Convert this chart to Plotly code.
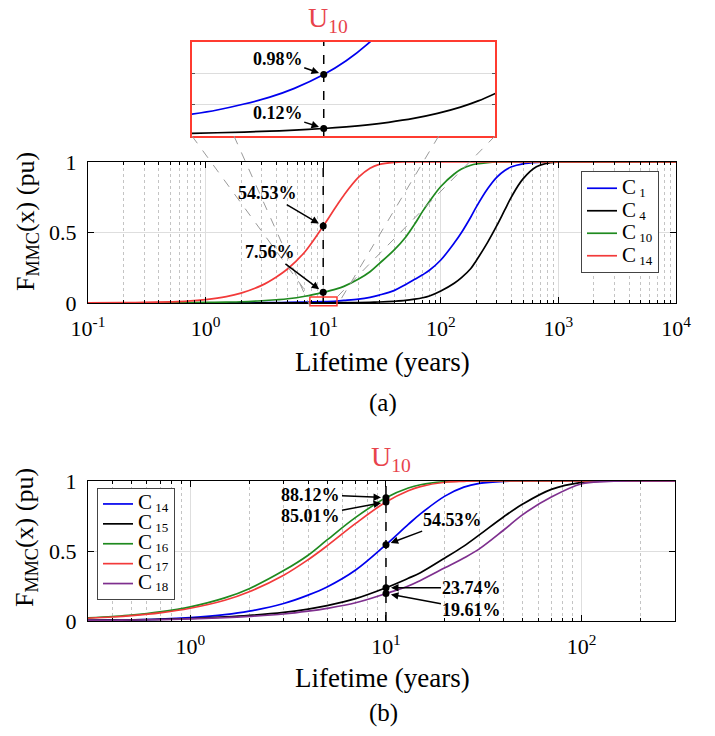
import math
import plotly.graph_objects as go

W, H = 715, 736
OFF = 8  # page body margin offset of the rendered figure
SERIF = "Liberation Serif"

# ---------------- data ----------------
x_top = [0.1, 0.2, 0.3, 0.5, 0.7, 1, 1.5, 2, 3, 4, 5, 7, 10, 13, 15, 20, 25, 30, 40, 50, 60, 70,
         80, 100, 130, 150, 180, 200, 250, 300, 350, 400, 500, 650, 850, 1000, 2000, 10000]
c1_top = [0, 0, 0.00002, 0.00005, 0.0001, 0.0003, 0.0006, 0.001, 0.002, 0.003, 0.004, 0.0065, 0.0098,
          0.014, 0.018, 0.027, 0.04, 0.056, 0.088, 0.13, 0.168, 0.2, 0.232, 0.305, 0.425, 0.5, 0.61,
          0.68, 0.81, 0.893, 0.94, 0.966, 0.987, 0.997, 1, 1, 1, 1]
c4_top = [0, 0, 0, 0.00001, 0.00002, 0.00003, 0.00006, 0.0001, 0.0002, 0.0003, 0.0004, 0.0007, 0.0012,
          0.002, 0.0025, 0.0035, 0.005, 0.007, 0.012, 0.018, 0.027, 0.037, 0.05, 0.085, 0.14, 0.18,
          0.245, 0.30, 0.43, 0.55, 0.66, 0.755, 0.88, 0.966, 0.995, 1, 1, 1]
c10_top = [0.0003, 0.0007, 0.0011, 0.002, 0.003, 0.004, 0.0065, 0.009, 0.016, 0.023, 0.03, 0.048, 0.0756,
           0.1, 0.118, 0.17, 0.222, 0.28, 0.375, 0.465, 0.56, 0.65, 0.72, 0.826, 0.915, 0.95, 0.977,
           0.986, 0.996, 1, 1, 1, 1, 1, 1, 1, 1, 1]
c14_top = [0.001, 0.002, 0.004, 0.008, 0.013, 0.024, 0.045, 0.07, 0.125, 0.185, 0.243, 0.364, 0.5453,
           0.69, 0.765, 0.892, 0.956, 0.983, 0.998, 1, 1, 1, 1, 1, 1, 1, 1, 1, 1, 1, 1, 1, 1, 1, 1, 1, 1, 1]

x_inset = [7.9, 8.3, 8.7, 9.1, 9.5, 10, 10.4, 10.8, 11.2, 11.7, 12.2, 12.7, 13.1, 13.5]
c1_inset = [0.0034, 0.00415, 0.0051, 0.0062, 0.0076, 0.0098, 0.012, 0.0147, 0.0179, 0.0231, 0.0297,
            0.038, 0.046, 0.056]
c4_inset = [0.00042, 0.00052, 0.00063, 0.00077, 0.00094, 0.0012, 0.00146, 0.00178, 0.00218, 0.0028,
            0.0036, 0.0046, 0.0056, 0.0068]

x_bot = [0.3, 0.4, 0.5, 0.7, 1, 1.5, 2, 3, 4, 5, 7, 10, 13, 15, 20, 25, 30, 40, 50, 70, 100, 130,
         150, 200, 300]
c14_bot = [0.004, 0.006, 0.008, 0.013, 0.024, 0.045, 0.07, 0.125, 0.185, 0.243, 0.364, 0.5453, 0.69,
           0.765, 0.892, 0.956, 0.983, 0.998, 1, 1, 1, 1, 1, 1, 1]
c15_bot = [0.005, 0.0065, 0.008, 0.012, 0.018, 0.029, 0.04, 0.062, 0.085, 0.11, 0.16, 0.2374, 0.305,
           0.345, 0.45, 0.535, 0.615, 0.745, 0.835, 0.94, 0.99, 0.999, 1, 1, 1]
c16_bot = [0.022, 0.032, 0.042, 0.065, 0.101, 0.165, 0.231, 0.36, 0.47, 0.579, 0.74, 0.8812, 0.95, 0.973,
           0.995, 0.999, 1, 1, 1, 1, 1, 1, 1, 1, 1]
c17_bot = [0.0197, 0.0285, 0.038, 0.058, 0.091, 0.148, 0.209, 0.327, 0.438, 0.537, 0.697, 0.8501, 0.93,
           0.96, 0.991, 0.998, 1, 1, 1, 1, 1, 1, 1, 1, 1]
c18_bot = [0.004, 0.0055, 0.007, 0.01, 0.015, 0.024, 0.033, 0.05, 0.07, 0.09, 0.13, 0.1961, 0.25, 0.29,
           0.38, 0.45, 0.515, 0.65, 0.76, 0.885, 0.98, 0.996, 0.999, 1, 1]

u_x = 10
marks_top = [0.5453, 0.0756]
marks_inset = [0.0098, 0.0012]
marks_bot = [0.8812, 0.8501, 0.5453, 0.2374, 0.1961]

top_subs = ["1", "4", "10", "14"]
bot_subs = ["14", "15", "16", "17", "18"]

BLUE, BLACK, GREEN, RED, PURPLE = "#0000ee", "#000000", "#1f8a1f", "#f23a3a", "#7e2f8e"
ULAB = "#e8434b"
ZRED = "#ff3b30"


# ---------------- geometry (reference-image pixels -> paper) ----------------
def PX(p):
    return (p - OFF) / W


def PY(p):
    return 1 - (p - OFF) / H


XA_DOM = [PX(88), PX(676)]
YA_DOM = [PY(303), PY(162)]
XA_RANGE = [-1, 4]
XB_DOM = [PX(88), PX(675)]
YB_DOM = [PY(621), PY(481)]
XB_RANGE = [math.log10(0.3), math.log10(300)]
XI_DOM = [PX(192), PX(495)]
YI_DOM = [PY(136), PY(42)]
XI_RANGE = [0.9, 1.13]
YI_RANGE = [0, 0.015]


def legname(sub):
    return ("<span style='font-size:21px'>C</span>"
            "<sub><span style='font-size:13px'> %s</span></sub>" % sub)


def a_to_paper(x, y):
    fx = (math.log10(x) - XA_RANGE[0]) / (XA_RANGE[1] - XA_RANGE[0])
    return XA_DOM[0] + fx * (XA_DOM[1] - XA_DOM[0]), YA_DOM[0] + y * (YA_DOM[1] - YA_DOM[0])


fig = go.Figure()
LINE = dict(width=1.7, shape="spline", smoothing=1.0)

# top curves
for ys, col, sb in zip([c1_top, c4_top, c10_top, c14_top], [BLUE, BLACK, GREEN, RED], top_subs):
    fig.add_trace(go.Scatter(x=x_top, y=ys, mode="lines", name=legname(sb), legend="legend",
                             line=dict(LINE, color=col), xaxis="x", yaxis="y"))
fig.add_trace(go.Scatter(x=[u_x, u_x], y=[0, 1], mode="lines", showlegend=False,
                         line=dict(color="black", width=1.5, dash="dash"), xaxis="x", yaxis="y"))
fig.add_trace(go.Scatter(x=[u_x] * len(marks_top), y=marks_top, mode="markers", showlegend=False,
                         marker=dict(color="black", size=7), xaxis="x", yaxis="y"))

# inset curves
for ys, col in zip([c1_inset, c4_inset], [BLUE, BLACK]):
    fig.add_trace(go.Scatter(x=x_inset, y=ys, mode="lines", showlegend=False,
                             line=dict(LINE, color=col), xaxis="x3", yaxis="y3"))
fig.add_trace(go.Scatter(x=[u_x, u_x], y=YI_RANGE, mode="lines", showlegend=False,
                         line=dict(color="black", width=1.5, dash="dash"), xaxis="x3", yaxis="y3"))
fig.add_trace(go.Scatter(x=[u_x] * len(marks_inset), y=marks_inset, mode="markers", showlegend=False,
                         marker=dict(color="black", size=7), xaxis="x3", yaxis="y3"))

# bottom curves
for ys, col, sb in zip([c14_bot, c15_bot, c16_bot, c17_bot, c18_bot],
                       [BLUE, BLACK, GREEN, RED, PURPLE], bot_subs):
    fig.add_trace(go.Scatter(x=x_bot, y=ys, mode="lines", name=legname(sb), legend="legend2",
                             line=dict(LINE, color=col), xaxis="x2", yaxis="y2"))
fig.add_trace(go.Scatter(x=[u_x, u_x], y=[0, 1], mode="lines", showlegend=False,
                         line=dict(color="black", width=1.5, dash="dash"), xaxis="x2", yaxis="y2"))
fig.add_trace(go.Scatter(x=[u_x] * len(marks_bot), y=marks_bot, mode="markers", showlegend=False,
                         marker=dict(color="black", size=7), xaxis="x2", yaxis="y2"))


def minor_vals(lo, hi):
    out = []
    e = lo
    while e < hi:
        for m in range(2, 10):
            out.append(m * 10 ** e)
        e += 1
    return out


common_x = dict(type="log", ticks="inside", ticklen=6, tickcolor="black", mirror="allticks",
                showline=True, linecolor="black", linewidth=1, showgrid=True, gridcolor="#dedede",
                gridwidth=1, zeroline=False, ticklabelstandoff=6, automargin=False,
                tickfont=dict(family=SERIF, size=22, color="black"))
common_y = dict(ticks="inside", ticklen=6, tickcolor="black", mirror="allticks", showline=True,
                linecolor="black", linewidth=1, showgrid=True, gridcolor="#dedede", zeroline=False,
                tickvals=[0, 0.5, 1], ticktext=["0", "0.5", "1"], ticklabelstandoff=6,
                automargin=False, tickfont=dict(family=SERIF, size=22, color="black"))
minor_common = dict(ticks="inside", ticklen=3, tickcolor="black", showgrid=True,
                    gridcolor="#c4c4c4", griddash="dot", gridwidth=1)

fig.update_layout(
    width=W, height=H, margin=dict(l=0, r=0, t=0, b=0, pad=0, autoexpand=False),
    paper_bgcolor="white", plot_bgcolor="white",
    xaxis=dict(common_x, domain=XA_DOM, range=XA_RANGE, anchor="y",
               tickvals=[0.1, 1, 10, 100, 1000, 10000],
               ticktext=["10<sup>-1</sup>", "10<sup>0</sup>", "10<sup>1</sup>", "10<sup>2</sup>",
                         "10<sup>3</sup>", "10<sup>4</sup>"],
               minor=dict(minor_common, tickvals=minor_vals(-1, 4))),
    yaxis=dict(common_y, domain=YA_DOM, range=[0, 1], anchor="x"),
    xaxis2=dict(common_x, domain=XB_DOM, range=XB_RANGE, anchor="y2",
                tickvals=[1, 10, 100],
                ticktext=["10<sup>0</sup>", "10<sup>1</sup>", "10<sup>2</sup>"],
                minor=dict(minor_common, tickvals=[v for v in minor_vals(-1, 3) if 0.3 <= v <= 300])),
    yaxis2=dict(common_y, domain=YB_DOM, range=[0, 1], anchor="x2"),
    xaxis3=dict(type="log", domain=XI_DOM, range=XI_RANGE, anchor="y3", showticklabels=False,
                showgrid=False, ticks="", showline=True, linecolor=ZRED, linewidth=1.5,
                mirror=True, zeroline=False, automargin=False),
    yaxis3=dict(domain=YI_DOM, range=YI_RANGE, anchor="x3", showticklabels=False,
                tickvals=[0.005, 0.01], ticks="inside", ticklen=3, tickcolor="#555",
                showgrid=True, gridcolor="#dddddd", showline=True, linecolor=ZRED,
                linewidth=1.5, mirror="allticks", zeroline=False, automargin=False),
    legend=dict(x=PX(581), y=PY(171), xanchor="left", yanchor="top", bgcolor="white",
                bordercolor="#444", borderwidth=1, font=dict(family=SERIF, size=15, color="black"),
                tracegroupgap=0, itemwidth=30),
    legend2=dict(x=PX(97), y=PY(488), xanchor="left", yanchor="top", bgcolor="white",
                 bordercolor="#444", borderwidth=1, font=dict(family=SERIF, size=13, color="black"),
                 tracegroupgap=0, itemwidth=30),
)

# zoom rectangle and connector lines (paper coordinates)
rx0, ry0 = a_to_paper(7.7, -0.02)
rx1, ry1 = a_to_paper(13.1, 0.042)
shapes = [dict(type="rect", xref="paper", yref="paper", x0=rx0, y0=ry0, x1=rx1, y1=ry1,
               line=dict(color=ZRED, width=1.5), layer="above")]
ix0, ix1 = XI_DOM
iy0, iy1 = YI_DOM


def seg_from_top(ax_, ay_, bx, by):
    t = (ay_ - iy0) / (ay_ - by)
    return ax_ + t * (bx - ax_), iy0


conn = []
sx, sy = seg_from_top(ix0, iy1, rx0, ry0)
conn.append((sx, sy, rx0, ry0))
conn.append((ix0, iy0, rx0, ry1))
sx, sy = seg_from_top(ix1, iy1, rx1, ry0)
conn.append((sx, sy, rx1, ry0))
conn.append((ix1, iy0, rx1, ry1))
for (a, b, c, d) in conn:
    shapes.append(dict(type="line", xref="paper", yref="paper", x0=a, y0=b, x1=c, y1=d,
                       line=dict(color="#9a9a9a", width=1, dash="dash"), layer="above"))
fig.update_layout(shapes=shapes)

ann = []


def ptxt(text, xp, yp, size, color="black", angle=0):
    ann.append(dict(text=text, x=PX(xp), y=PY(yp), xref="paper", yref="paper", showarrow=False,
                    xanchor="center", yanchor="middle", textangle=angle,
                    font=dict(family=SERIF, size=size, color=color)))


ptxt("Lifetime (years)", 382, 362, 27)
ptxt("(a)", 383, 403, 25)
ptxt("Lifetime (years)", 382, 678, 27)
ptxt("(b)", 383, 713, 25)
ptxt("F<sub>MMC</sub>(x) (pu)", 27, 222, 26, angle=-90)
ptxt("F<sub>MMC</sub>(x) (pu)", 26, 538, 26, angle=-90)
ptxt("U<sub>10</sub>", 328, 20, 28, color=ULAB)
ptxt("U<sub>10</sub>", 391, 458, 28, color=ULAB)


def arrow(val, xr, yr, axp, ayp):
    ann.append(dict(text="<b>%.2f%%</b>" % (val * 100), x=math.log10(u_x), y=val, xref=xr, yref=yr,
                    ax=axp, ay=ayp, showarrow=True, arrowhead=2, arrowsize=1, arrowwidth=1.5,
                    arrowcolor="black", standoff=5,
                    font=dict(family=SERIF, size=18, color="black")))


arrow(marks_top[0], "x", "y", -56, -33)
arrow(marks_top[1], "x", "y", -53, -40)
arrow(marks_inset[0], "x3", "y3", -46, -16)
arrow(marks_inset[1], "x3", "y3", -46, -15)
arrow(marks_bot[0], "x2", "y2", -75, -3)
arrow(marks_bot[1], "x2", "y2", -75, 14)
arrow(marks_bot[2], "x2", "y2", 67, -25)
arrow(marks_bot[3], "x2", "y2", 86, 0)
arrow(marks_bot[4], "x2", "y2", 86, 16)
fig.update_layout(annotations=ann)

fig.write_html("out.html")
